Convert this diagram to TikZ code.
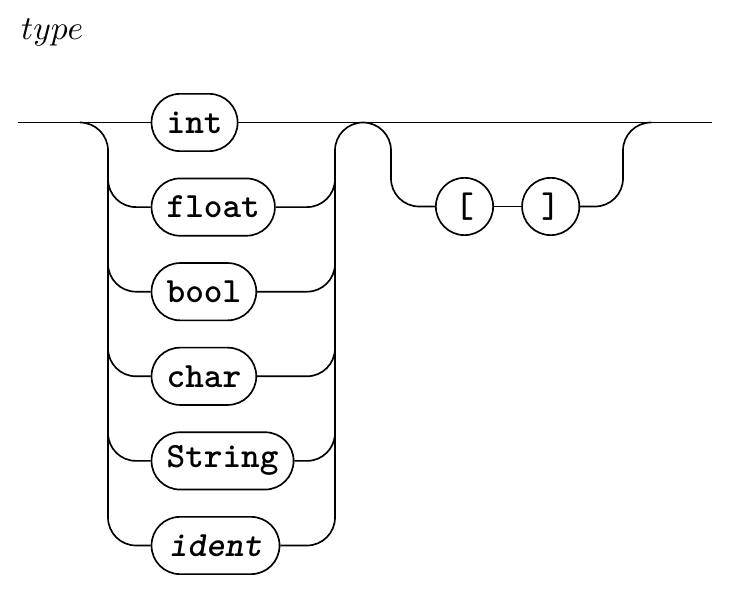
\documentclass[tikz,border=0pt]{standalone}
\begin{document}
\begin{tikzpicture}[x=0.2985pt,y=-0.2985pt,
  rail/.style={line width=0.5pt, rounded corners=8.36pt},
  term/.style={draw, line width=0.5pt, rectangle, rounded corners=8.5pt, minimum height=17.1pt, inner xsep=4.5pt, inner ysep=0pt, anchor=west, font=\fontsize{10.6}{12}\ttfamily\bfseries},
  tok/.style={draw, line width=0.5pt, circle, minimum size=17.1pt, inner sep=0pt, font=\fontsize{10.6}{12}\ttfamily\bfseries}]
\useasboundingbox (0,0) rectangle (740,594);
\node[anchor=base west, inner sep=0pt] (title) at (20.5,39.3) {\fontsize{10.4}{12}\selectfont$type$};
% terms
\node[term] (int) at (150.7,122.5) {int};
\node[term] (float) at (150.7,207.1) {float};
\node[term] (bool) at (150.7,291.7) {bool};
\node[term] (char) at (150.7,376.3) {char};
\node[term] (String) at (150.7,460.9) {String};
\node[term, minimum width=38.2pt] (ident) at (150.7,545.5) {\itshape ident};
\node[tok] (lb) at (464.5,206.5) {[};
\node[tok] (rb) at (550.7,206.5) {]};
% coordinates
\coordinate (start) at (18,122.5);
\coordinate (end) at (712,122.5);
\coordinate (Ls) at (80,122.5);
\coordinate (Lv) at (108,122.5);
\coordinate (Rv) at (335,122.5);
\coordinate (Ov) at (391,122.5);
\coordinate (Ev) at (623,122.5);
\coordinate (Ee) at (651,122.5);
% main line
\draw[rail] (start) -- (int.west);
\draw[rail] (int.east) -- (end);
% left rail
\draw[rail] (Ls) -| (ident.west -| Lv) -- (ident.west);
\foreach \n in {float,bool,char,String}{
  \draw[rail] ([yshift=9pt]\n.west -| Lv) |- (\n.west);
  \draw[rail] (\n.east) -| ([yshift=9pt]\n.east -| Rv);
}
% right rail with bump into optional
\draw[rail] (ident.east) -| (Rv) -| (lb.west -| Ov) -- (lb.west);
\draw[rail] (lb) -- (rb);
\draw[rail] (rb.east) -| (Ev) -- (Ee);
\end{tikzpicture}
\end{document}
